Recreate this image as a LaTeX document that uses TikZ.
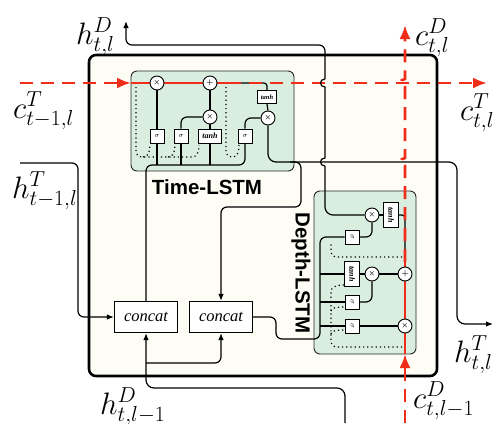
\RequirePackage{fix-cm}
\documentclass[tikz,border=0pt]{standalone}
\usepackage{fontspec}
\newfontfamily\labsf{Liberation Sans}
\newfontfamily\timesf{Liberation Serif}
\usetikzlibrary{arrows.meta}
\definecolor{redc}{RGB}{240,45,25}
\definecolor{greenf}{RGB}{217,238,223}
\definecolor{creamf}{RGB}{253,252,245}
\begin{document}
\begin{tikzpicture}[x=1pt,y=-1pt,
 conn/.style={line width=1.2pt, rounded corners=6pt},
 arrowk/.style={-{Latex[length=7pt,width=5.5pt]}},
 reddash/.style={draw=redc, line width=2.6pt, dash pattern=on 13pt off 8pt},
 redsolid/.style={draw=redc, line width=2.6pt},
 redtip/.style={-{Latex[length=14pt,width=11pt]}},
 dotp/.style={line width=1.2pt, dash pattern=on 1.2pt off 3pt},
 gcirc/.style={circle, draw, fill=white, line width=0.9pt, minimum size=14pt, inner sep=0pt, font=\fontsize{7}{8}\selectfont\boldmath},
 gsig/.style={rectangle, draw, fill=white, line width=0.9pt, minimum width=14pt, minimum height=14pt, inner sep=0pt, font=\fontsize{7}{8}\selectfont},
 gtanh/.style={rectangle, draw, fill=white, line width=0.9pt, minimum width=23pt, minimum height=14pt, inner sep=0pt, font=\timesf\bfseries\itshape\fontsize{8}{9}\selectfont},
 gtanhs/.style={gtanh, minimum width=19pt, minimum height=13pt, font=\timesf\bfseries\itshape\fontsize{6.5}{7}\selectfont},
 gtanhv/.style={gtanh, minimum width=25pt, minimum height=15pt, rotate=-90},
 catbox/.style={rectangle, draw, fill=white, line width=1.1pt, minimum width=63pt, minimum height=31pt, inner sep=0pt, font=\timesf\itshape\fontsize{16.5}{18}\selectfont},
 lstmlab/.style={font=\labsf\bfseries\fontsize{20.5}{24}\selectfont, inner sep=0pt},
 mathlab/.style={anchor=base west, inner sep=0pt, font=\fontsize{31}{36}\selectfont},
]
\useasboundingbox (0,0) rectangle (494,423);
\fill[white] (0,0) rectangle (494,423);
% boxes
\draw[line width=2.6pt, fill=creamf, rounded corners=7pt] (89,55) rectangle (437,376);
\draw[line width=0.9pt, draw=black!85, fill=greenf, rounded corners=6pt] (131,71) rectangle (294,171);
\draw[line width=0.9pt, draw=black!85, fill=greenf, rounded corners=6pt] (314,191) rectangle (416,354);

% dotted peepholes (time)
\draw[dotp] (136,87) -- (136,150) .. controls (136,155) and (138,157) .. (143,157) -- (192,157) .. controls (197,157) and (199,152) .. (199,145);
\draw[dotp] (143,157) .. controls (148,157) and (150,152) .. (150,145);
\draw[dotp] (168,157) .. controls (173,157) and (175,152) .. (175,145);
\draw[dotp] (226,87) -- (226,150) .. controls (226,155) and (228,157) .. (233,157) .. controls (237,157) and (239,152) .. (239,145);
% dotted peepholes (depth)
\draw[dotp] (402,347) -- (338,347) .. controls (333,347) and (331,345) .. (331,340) -- (331,292) .. controls (331,287) and (336,285) .. (344,285);
\draw[dotp] (331,334) .. controls (331,331) and (336,330) .. (344,330);
\draw[dotp] (331,311) .. controls (331,308) and (336,307) .. (344,307);
\draw[dotp] (402,257) -- (338,257) .. controls (333,257) and (331,255) .. (331,250) -- (331,244);

% black c-line branches (under red)
\draw[line width=1.2pt, rounded corners=3pt] (217,83) -- (267,83) -- (267,91);
\draw[line width=1.2pt, rounded corners=3pt] (405,267) -- (405,215) -- (398,215);

% red cell-state lines
\coordinate (cTin) at (20,83);
\coordinate (cTout) at (487,83);
\coordinate (cDin) at (405,423);
\coordinate (cDout) at (405,25);
\draw[reddash, redtip] (cTin) -- (131,83);
\draw[redsolid] (131,83) -- (228,83);
\draw[reddash, redtip] (228,83) -- (cTout);
\draw[reddash, redtip] (cDin) -- (405,354);
\draw[redsolid] (405,354) -- (405,262);
\draw[reddash, redtip] (405,262) -- (405,166) .. controls (399,166) and (399,158) .. (405,158) -- (405,87) .. controls (399,87) and (399,79) .. (405,79) -- (cDout);

% time-LSTM gates
\node[gcirc] (tf) at (157,83) {$\times$};
\node[gcirc] (tp) at (210,83) {$+$};
\node[gcirc] (ti) at (210,117) {$\times$};
\node[gcirc] (to) at (268,118) {$\times$};
\node[gsig] (ts1) at (157,136) {$\sigma$};
\node[gsig] (ts2) at (181,136) {$\sigma$};
\node[gtanh] (tt) at (210,136) {tanh};
\node[gsig] (ts4) at (245,136) {$\sigma$};
\node[gtanhs] (tto) at (267,97) {tanh};

% depth-LSTM gates
\node[gcirc] (df) at (405,326) {$\times$};
\node[gcirc] (dp) at (405,274) {$+$};
\node[gcirc] (di) at (372,274) {$\times$};
\node[gcirc] (do) at (372,215) {$\times$};
\node[gsig, rotate=-90] (ds1) at (352,326) {$\sigma$};
\node[gsig, rotate=-90] (ds2) at (352,302) {$\sigma$};
\node[gtanhv] (dt) at (352,274) {tanh};
\node[gsig, rotate=-90] (ds4) at (352,237) {$\sigma$};
\node[gtanhv] (dto) at (391,215) {tanh};

% concat boxes
\node[catbox] (c1) at (146,317) {concat};
\node[catbox] (c2) at (221,317) {concat};

% time-LSTM wiring
\draw[conn] (ts1.north) -- (tf.south);
\draw[conn] (ts2.north) |- (ti.west);
\draw[conn] (tt.north) -- (ti.south);
\draw[conn] (ti.north) -- (tp.south);
\draw[conn] (ts4.north) |- (to.west);
\draw[conn] (tto.south) -- (to.north);
\draw[conn] (c1.north) |- (200,165) -| (ts4.south);
\draw[conn] (ts1.south) -- (157,165);
\draw[conn] (ts2.south) -- (181,165);
\draw[conn] (tt.south) -- (210,165);

% depth-LSTM wiring
\draw[conn] (ds4.north) -| (do.south);
\draw[conn] (dt.north) -- (di.west);
\draw[conn] (di.east) -- (dp.west);
\draw[conn] (ds2.north) -| (di.south);
\draw[conn] (ds1.north) -- (df.west);
\draw[conn] (dto.south) -- (do.east);
\draw[conn] (c2.east) -- (276,317) -- (276,339) -- (320,339) -- (320,237) -- (ds4.south);
\draw[conn] (320,274) -- (dt.south);
\draw[conn] (320,302) -- (ds2.south);
\draw[conn] (320,326) -- (ds1.south);

% h^T output of time-LSTM
\coordinate (hTout) at (493,324);
\draw[conn, rounded corners=8pt, arrowk] (to.south) -- (268,162) -- (457,162) -- (457,324) -- (hTout);
\draw[conn, arrowk] (290,162) -- (301,162) -- (301,207) -- (221,207) -- (c2.north);

% h^D output of depth-LSTM
\coordinate (hDout) at (126,21);
\draw[conn, rounded corners=8pt] (do.west) -- (325,215) -- (325,166);
\draw[line width=1.2pt] (325,166) .. controls (319,166) and (319,158) .. (325,158) -- (325,87) .. controls (319,87) and (319,79) .. (325,79);
\draw[conn, arrowk] (325,79) -- (325,45) -- (126,45) -- (hDout);

% inputs
\coordinate (hTin) at (20,163);
\draw[conn, arrowk] (hTin) -- (78,163) -- (78,317) -- (c1.west);
\coordinate (hDin) at (345,423);
\draw[conn, rounded corners=8pt, arrowk] (hDin) -- (345,388) -- (146,388) -- (c1.south);
\draw[conn, arrowk] (146,363) -- (221,363) -- (c2.south);

% block labels
\node[lstmlab] (tlab) at (207,187) {Time-LSTM};
\node[lstmlab, rotate=-90] (dlab) at (301,273) {Depth-LSTM};

% variable labels
\node[mathlab] (lhDo) at (76,44) {$h^D_{t,l}$};
\node[mathlab] (lcTi) at (13,118) {$c^T_{t-1,l}$};
\node[mathlab] (lcDo) at (415,45) {$c^D_{t,l}$};
\node[mathlab] (lcTo) at (460,120) {$c^T_{t,l}$};
\node[mathlab] (lhTi) at (12,198) {$h^T_{t-1,l}$};
\node[mathlab] (lhTo) at (454,362) {$h^T_{t,l}$};
\node[mathlab] (lcDi) at (413,408) {$c^D_{t,l-1}$};
\node[mathlab] (lhDi) at (100,414) {$h^D_{t,l-1}$};
\end{tikzpicture}
\end{document}
